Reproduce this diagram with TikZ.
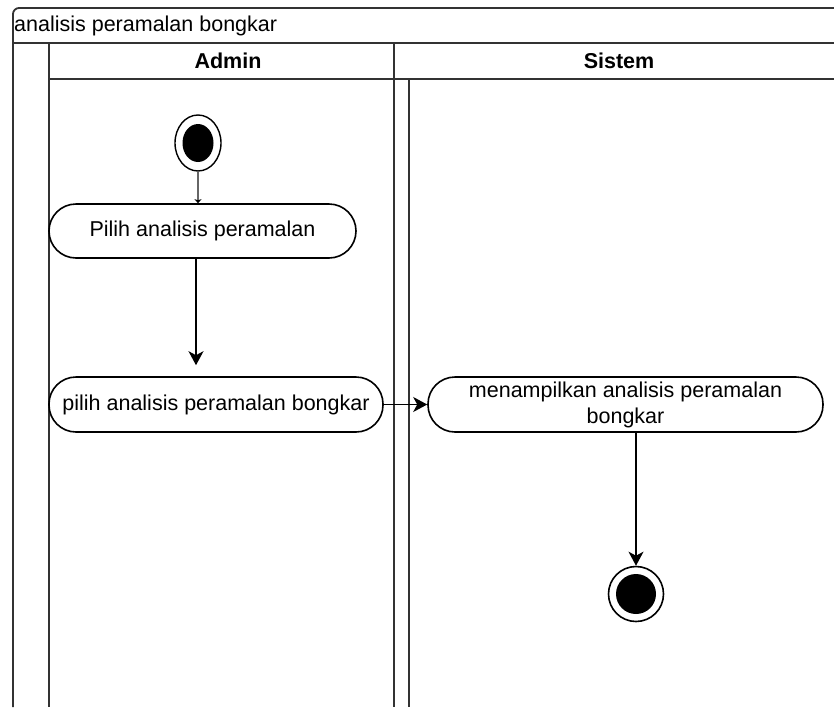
\documentclass[tikz,border=0pt]{standalone}
\usepackage{fontspec}
\setmainfont{Liberation Sans}
\usetikzlibrary{arrows.meta,shapes.geometric}
\begin{document}
\begin{tikzpicture}[x=1pt,y=-1pt,
  lane/.style={line width=1.8pt, draw=black!80},
  action/.style={draw, line width=1.6pt, rectangle, rounded corners=27pt,
    align=center, inner sep=0pt, font=\fontsize{21.5pt}{26pt}\selectfont},
  flow/.style={line width=1.6pt, -{Stealth[length=14pt,width=15pt,inset=4pt]}},
  lanetitle/.style={font=\bfseries\fontsize{21.5pt}{26pt}\selectfont, inner sep=0pt}]
\useasboundingbox (0,0) rectangle (834,707);
\clip (0,0) rectangle (834,707);

% pool frame and lanes
\draw[lane, rounded corners=6pt] (13,707) -- (13,8) -- (840,8);
\draw[lane] (13,43) -- (840,43);
\draw[lane] (49,79) -- (840,79);
\draw[lane] (49,43) -- (49,707);
\draw[lane] (394,43) -- (394,707);
\draw[lane] (409,79) -- (409,707);

\node[anchor=west, inner sep=0pt, font=\fontsize{21.5pt}{26pt}\selectfont] (pool) at (14,26) {analisis peramalan bongkar};
\node[lanetitle] (admin) at (228,61) {Admin};
\node[lanetitle] (sistem) at (619,61) {Sistem};

% start node
\node[draw, line width=1.4pt, ellipse, minimum width=46pt, minimum height=56pt, inner sep=0pt] (start) at (198,143) {};
\fill (start.center) ellipse[x radius=15.5, y radius=19];

% actions
\node[action, minimum width=307pt, minimum height=54pt] (a1) at (202.5,231) {Pilih analisis peramalan};
\node[action, minimum width=334pt, minimum height=55pt] (a2) at (216,404.5) {pilih analisis peramalan bongkar};
\node[action, minimum width=395pt, minimum height=55pt] (a3) at (625.5,404.5) {menampilkan analisis peramalan\\bongkar};

% end node
\node[draw, line width=1.6pt, circle, minimum size=55pt, inner sep=0pt] (stop) at (636,594) {};
\fill (stop.center) circle[radius=20];

% control flow
\draw[line width=1.8pt, draw=black!60, -{Stealth[length=4pt,width=7pt,inset=1pt,black]}] (start.south) -- (start.south |- a1.north);
\draw[flow, shorten >=11pt] (a1.south -| 196,0) -- (a2.north -| 196,0);
\draw[flow] (a2.east) -- (a3.west);
\draw[flow] (a3.south -| stop.north) -- (stop.north);
\end{tikzpicture}
\end{document}
